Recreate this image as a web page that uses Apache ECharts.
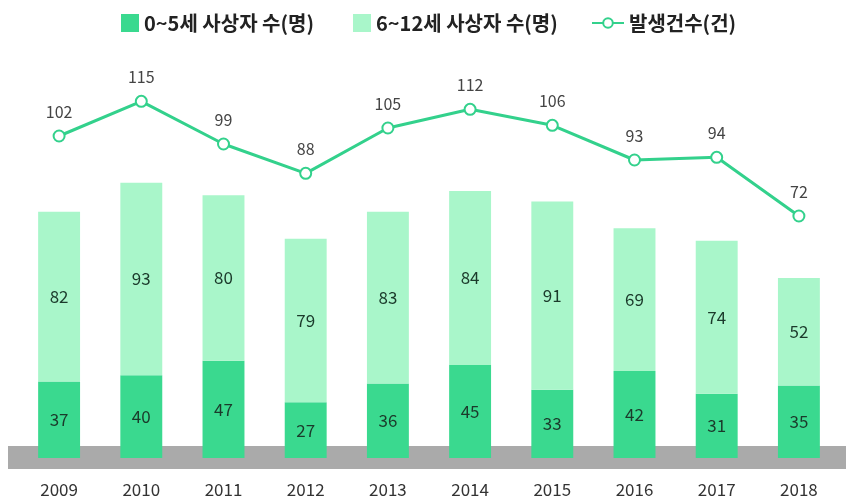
<!DOCTYPE html>
<html>
<head>
    <meta charset="utf-8">
    <title>ECharts</title>
    <script src="https://cdn.jsdelivr.net/npm/echarts@6/dist/echarts.min.js"></script>
    <style>
        body { margin: 0; background: #fff; }
    </style>
</head>
<body>
    <div id="main" style="width: 846px;height:501px;"></div>
    <script>
        var years = ['2009', '2010', '2011', '2012', '2013', '2014', '2015', '2016', '2017', '2018'];
        var age0to5 = [37, 40, 47, 27, 36, 45, 33, 42, 31, 35];
        var age6to12 = [82, 93, 80, 79, 83, 84, 91, 69, 74, 52];
        var cases = [102, 115, 99, 88, 105, 112, 106, 93, 94, 72];

        var font = '"Noto Sans CJK KR", "Noto Sans", sans-serif';
        var legendText = { fontSize: 20, color: '#222', fontWeight: 'bold', fontFamily: font };
        var myChart = echarts.init(document.getElementById('main'));

        var option = {
            backgroundColor: '#ffffff',
            textStyle: { fontFamily: font },
            legend: [{
                top: 8,
                left: 116,
                itemGap: 39,
                itemWidth: 18,
                itemHeight: 18,
                textStyle: legendText,
                data: [
                    { name: '0~5세 사상자 수(명)', icon: 'rect' },
                    { name: '6~12세 사상자 수(명)', icon: 'rect' }
                ]
            }, {
                top: 8,
                left: 586,
                itemWidth: 32,
                itemHeight: 12,
                textStyle: legendText,
                data: ['발생건수(건)']
            }],
            graphic: [{
                type: 'rect',
                z: 0,
                shape: { x: 8, y: 446, width: 838, height: 23 },
                style: { fill: '#aaaaaa' }
            }],
            grid: [
                { left: 18, right: 6, top: 40, bottom: 43 },
                { left: 18, right: 6, top: 88, bottom: 253 }
            ],
            xAxis: [{
                type: 'category',
                gridIndex: 0,
                data: years,
                axisLine: { show: false },
                axisTick: { show: false },
                axisLabel: { margin: 23, fontSize: 17, color: '#333', fontFamily: font }
            }, {
                type: 'category',
                gridIndex: 1,
                data: years,
                show: false
            }],
            yAxis: [{
                type: 'value',
                gridIndex: 0,
                min: 0,
                max: 202,
                show: false
            }, {
                type: 'value',
                gridIndex: 1,
                min: 60,
                max: 120,
                show: false
            }],
            series: [{
                name: '0~5세 사상자 수(명)',
                type: 'bar',
                stack: 'total',
                barWidth: '51%',
                z: 3,
                itemStyle: { color: '#3ad98f' },
                label: { show: true, position: 'inside', fontSize: 17, color: '#1b3a2b', fontFamily: font },
                data: age0to5
            }, {
                name: '6~12세 사상자 수(명)',
                type: 'bar',
                stack: 'total',
                barWidth: '51%',
                z: 3,
                itemStyle: { color: '#a9f6ca' },
                label: { show: true, position: 'inside', fontSize: 17, color: '#1b3a2b', fontFamily: font },
                data: age6to12
            }, {
                name: '발생건수(건)',
                type: 'line',
                xAxisIndex: 1,
                yAxisIndex: 1,
                symbol: 'emptyCircle',
                symbolSize: 11,
                lineStyle: { color: '#33d18c', width: 3 },
                itemStyle: { color: '#33d18c', borderWidth: 3 },
                label: { show: true, position: 'top', distance: 10, fontSize: 16, color: '#444', fontFamily: font },
                data: cases
            }]
        };
        myChart.setOption(option);
    </script>
</body>
</html>
